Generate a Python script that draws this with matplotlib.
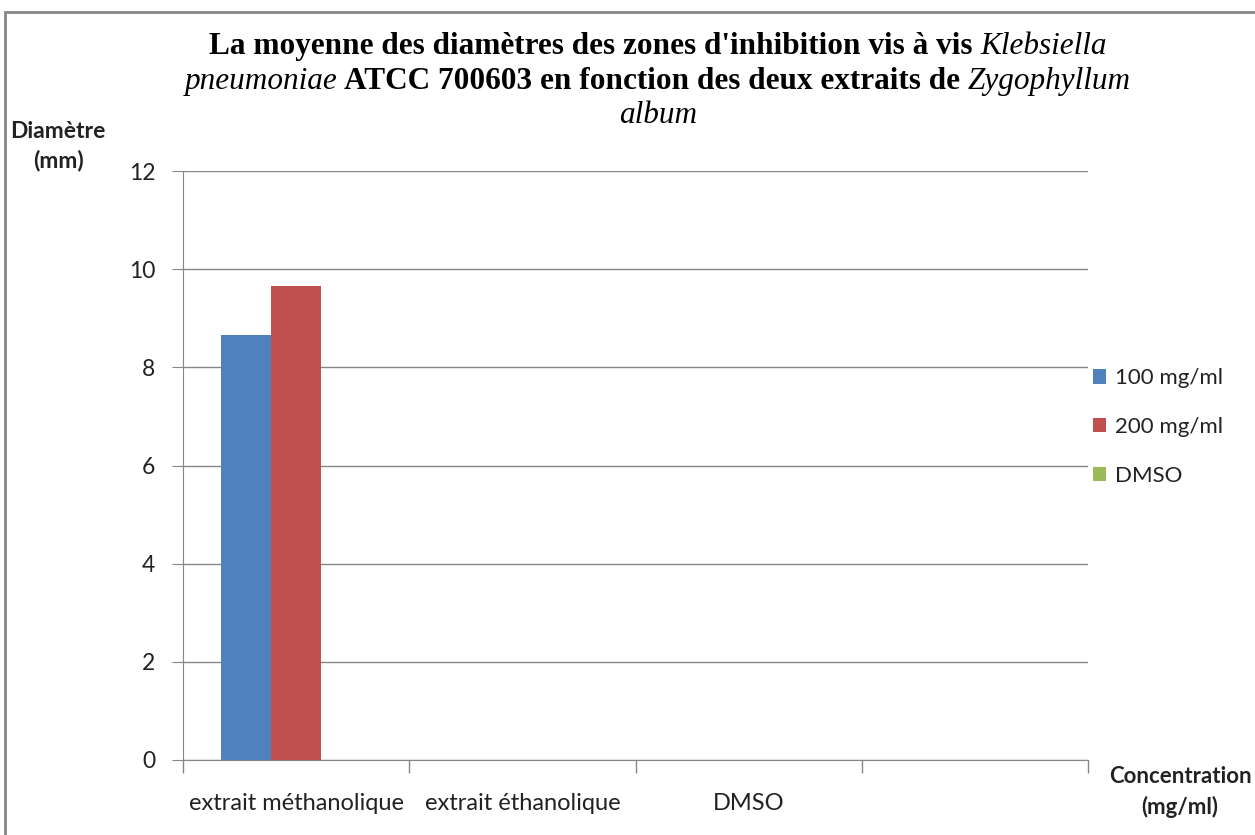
import matplotlib.pyplot as plt
from matplotlib.patches import Rectangle
import numpy as np

# Données : diamètres moyens (mm) par extrait et par concentration
categories = ["extrait méthanolique", "extrait éthanolique", "DMSO", ""]
series = ["100 mg/ml", "200 mg/ml", "DMSO"]
diam_100 = [8.65, 0, 0, 0]
diam_200 = [9.65, 0, 0, 0]
diam_dmso = [0, 0, 0, 0]
couleurs = ["#4F81BD", "#C0504D", "#9BBB59"]

W, H = 1255, 835
fig = plt.figure(figsize=(W / 100, H / 100), dpi=100)
ax = fig.add_axes([183 / W, 1 - 760 / H, (1088 - 183) / W, (760 - 171) / H])

x = np.arange(len(categories))
largeur = 0.222
for i, (vals, nom) in enumerate(zip([diam_100, diam_200, diam_dmso], series)):
    ax.bar(x + (i - 1) * largeur, vals, largeur, color=couleurs[i], label=nom, zorder=3)

gris = "#868686"
texte = "#222222"
ax.set_xlim(-0.5, len(categories) - 0.5)
ax.set_ylim(0, 12)
ax.set_yticks(range(0, 13, 2))
ax.yaxis.grid(True, color=gris, lw=1)
ax.set_axisbelow(True)
for s in ["top", "right"]:
    ax.spines[s].set_visible(False)
for s in ["left", "bottom"]:
    ax.spines[s].set_color(gris)

police = "Lato"
ax.set_xticks(np.arange(len(categories) + 1) - 0.5)
ax.set_xticklabels([])
ax.set_xticks(x, minor=True)
ax.set_xticklabels(categories, minor=True, fontsize=17, family=police, color=texte)
ax.tick_params(axis="x", which="major", length=9, color=gris, width=1)
ax.tick_params(axis="x", which="minor", length=0, pad=24)
ax.tick_params(axis="y", length=8, color=gris, labelsize=16.5, pad=12, labelcolor=texte)
for t in ax.get_yticklabels():
    t.set_family(police)

leg = ax.legend(loc="center left", bbox_to_anchor=(0.983, 0.565), frameon=False,
                prop={"family": police, "size": 16}, handlelength=0.6, handleheight=0.6,
                handletextpad=0.4, labelspacing=1.3)
for t in leg.get_texts():
    t.set_color(texte)

# titres des axes
fig.text(58 / W, 1 - 146 / H, "Diamètre\n(mm)", ha="center", va="center",
         fontsize=16.5, weight="bold", family=police, linespacing=1.45, color=texte)
fig.text(1180 / W, 1 - 792 / H, "Concentration\n(mg/ml)", ha="center", va="center",
         fontsize=16, weight="bold", family=police, linespacing=1.45, color=texte)

# titre avec parties en italique
titre = [
    [("La moyenne des diamètres des zones d'inhibition vis à vis ", "normal"), ("Klebsiella", "italic")],
    [("pneumoniae", "italic"), (" ATCC 700603 en fonction des deux extraits de ", "normal"),
     ("Zygophyllum", "italic")],
    [("album", "italic")],
]
lignes_y = [54, 89, 123]
rend = fig.canvas.get_renderer()
for morceaux, yb in zip(titre, lignes_y):
    textes = []
    for txt, style in morceaux:
        poids = "bold" if style == "normal" else "normal"
        t = fig.text(0, 1 - yb / H, txt, fontsize=22.5, family="Liberation Serif",
                     weight=poids, style=style, va="baseline", ha="left")
        textes.append(t)
    larg = [t.get_window_extent(rend).width for t in textes]
    x0 = 658 - sum(larg) / 2
    for t, l in zip(textes, larg):
        t.set_x(x0 / W)
        x0 += l

# cadre du graphique
fig.add_artist(Rectangle((5 / W, -0.05), 1.2, 1 - 12 / H + 0.05, transform=fig.transFigure,
                         fill=False, edgecolor=gris, lw=2))

fig.savefig("out.png", dpi=100)
